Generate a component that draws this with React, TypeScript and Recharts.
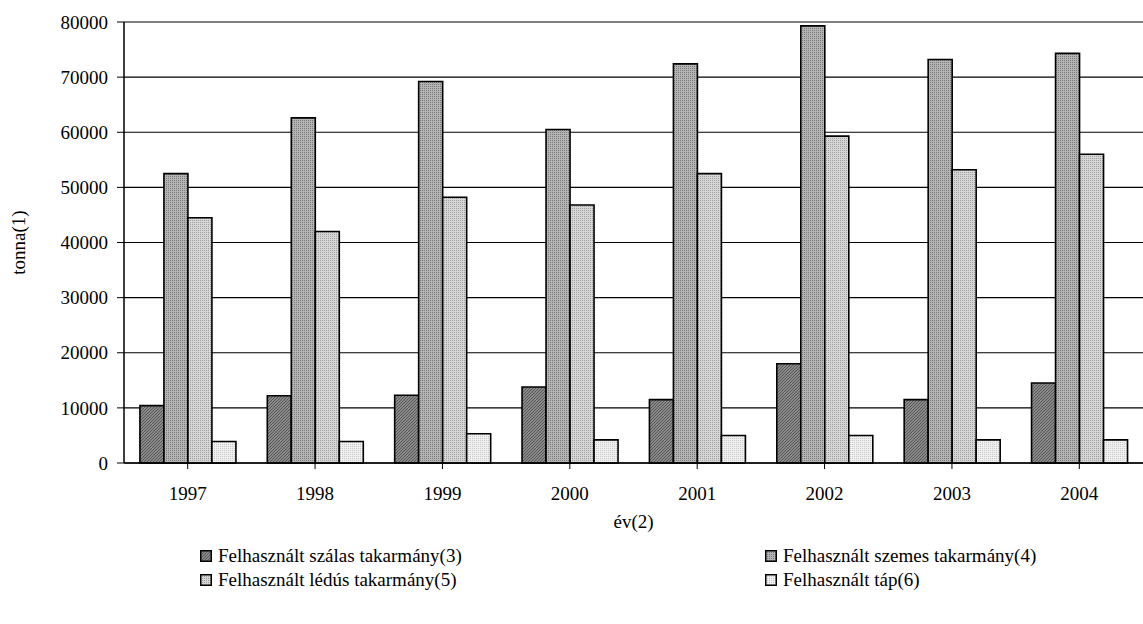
import { BarChart, Bar, XAxis, YAxis, CartesianGrid, Label } from 'recharts';

const years = ['1997', '1998', '1999', '2000', '2001', '2002', '2003', '2004'];
const szalas = [10400, 12200, 12300, 13800, 11500, 18000, 11500, 14500];
const szemes = [52500, 62600, 69200, 60500, 72400, 79300, 73200, 74300];
const ledus = [44500, 42000, 48200, 46800, 52500, 59300, 53200, 56000];
const tap = [3900, 3900, 5300, 4200, 5000, 5000, 4200, 4200];
const yTicks = [0, 10000, 20000, 30000, 40000, 50000, 60000, 70000, 80000];

const series = [
  { key: 'szalas', name: 'Felhasznált szálas takarmány(3)', fill: 'url(#p1)' },
  { key: 'szemes', name: 'Felhasznált szemes takarmány(4)', fill: 'url(#p2)' },
  { key: 'ledus', name: 'Felhasznált lédús takarmány(5)', fill: 'url(#p3)' },
  { key: 'tap', name: 'Felhasznált táp(6)', fill: 'url(#p4)' },
];

const data = years.map((year, i) => ({
  year,
  szalas: szalas[i],
  szemes: szemes[i],
  ledus: ledus[i],
  tap: tap[i],
}));

const font = 'Liberation Serif, serif';
const textStyle = { fill: '#000', fontSize: 19, fontFamily: font };

const Patterns = () => (
  <defs>
    <pattern id="p1" width="3" height="3" patternUnits="userSpaceOnUse">
      <rect width="3" height="3" fill="#8a8a8a" />
      <path d="M0,3 L3,0" stroke="#555" strokeWidth="1" />
    </pattern>
    <pattern id="p2" width="2" height="2" patternUnits="userSpaceOnUse">
      <rect width="2" height="2" fill="#b4b4b4" />
      <rect width="1" height="1" fill="#7a7a7a" />
    </pattern>
    <pattern id="p3" width="2" height="2" patternUnits="userSpaceOnUse">
      <rect width="2" height="2" fill="#d6d6d6" />
      <rect width="1" height="1" fill="#a0a0a0" />
    </pattern>
    <pattern id="p4" width="2" height="2" patternUnits="userSpaceOnUse">
      <rect width="2" height="2" fill="#f0f0f0" />
      <rect width="1" height="1" fill="#c8c8c8" />
    </pattern>
  </defs>
);

const legendPos = [
  { left: 200, top: 545 },
  { left: 765, top: 545 },
  { left: 200, top: 569 },
  { left: 765, top: 569 },
];

const App = () => {
  return (
    <div style={{ position: 'absolute', left: 0, top: 0, width: 1143, height: 624, background: '#fff', fontFamily: font }}>
      <BarChart
        width={1143}
        height={624}
        data={data}
        margin={{ top: 22, right: 0, bottom: 101, left: 0 }}
        barGap={0}
        barCategoryGap="12.5%"
        style={{ fontFamily: font }}
      >
        <Patterns />
        <CartesianGrid vertical={false} stroke="#000" strokeWidth={1.2} />
        <XAxis
          dataKey="year"
          height={60}
          tickLine={{ stroke: '#000' }}
          axisLine={{ stroke: '#000', strokeWidth: 1.5 }}
          tick={textStyle}
          tickSize={6}
          tickMargin={18}
        >
          <Label value="év(2)" position="center" dy={28} style={textStyle} />
        </XAxis>
        <YAxis
          width={124}
          domain={[0, 80000]}
          ticks={yTicks}
          interval={0}
          tickLine={{ stroke: '#000' }}
          axisLine={{ stroke: '#000', strokeWidth: 1.5 }}
          tick={textStyle}
          tickSize={7}
          tickMargin={9}
        >
          <Label value="tonna(1)" position="center" angle={-90} dx={-44} style={textStyle} />
        </YAxis>
        {series.map((s) => (
          <Bar
            key={s.key}
            dataKey={s.key}
            name={s.name}
            fill={s.fill}
            stroke="#000"
            strokeWidth={1.6}
            isAnimationActive={false}
          />
        ))}
      </BarChart>
      {series.map((s, i) => (
        <div
          key={s.key}
          style={{
            position: 'absolute',
            left: legendPos[i].left,
            top: legendPos[i].top,
            display: 'flex',
            alignItems: 'center',
            fontSize: 19,
            color: '#000',
            whiteSpace: 'nowrap',
          }}
        >
          <svg width={12} height={12} style={{ marginRight: 6 }}>
            <rect x={0.75} y={0.75} width={10.5} height={10.5} fill={s.fill} stroke="#000" strokeWidth={1.5} />
          </svg>
          {s.name}
        </div>
      ))}
    </div>
  );
};

export default App;
